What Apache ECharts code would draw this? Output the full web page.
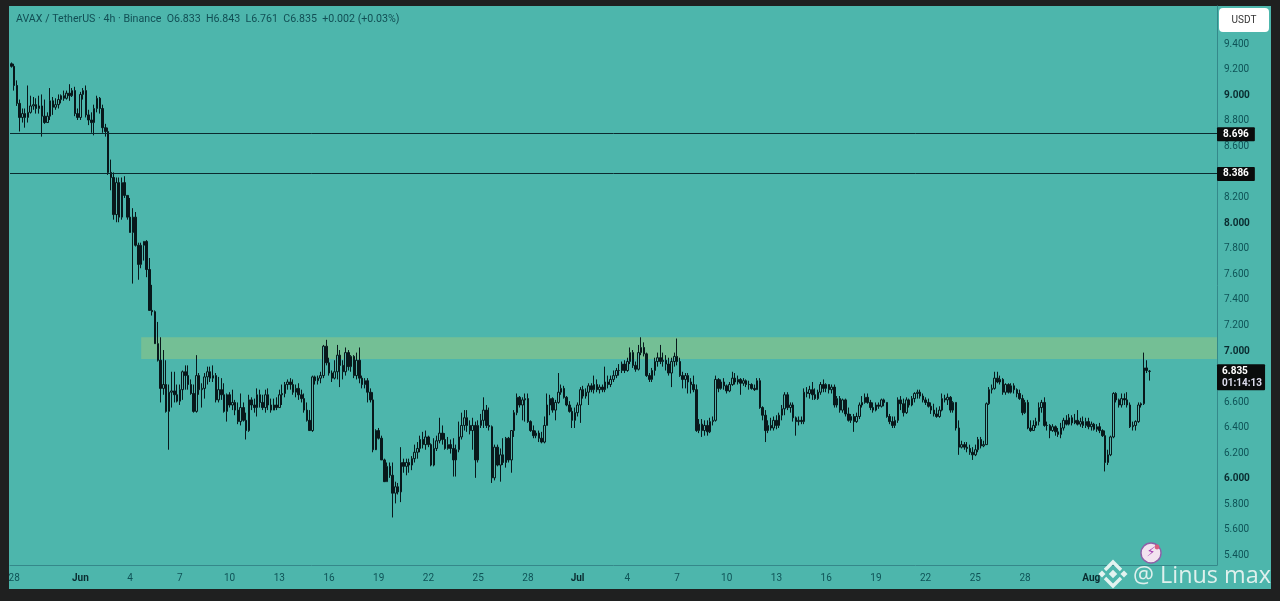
<!DOCTYPE html>
<html><head><meta charset="utf-8">
<style>
html,body{margin:0;padding:0;width:1280px;height:601px;overflow:hidden;background:#1f2020}
#panel{position:absolute;left:9px;top:6px;width:1262px;height:583px;background:#4DB6AC}
#c{position:absolute;left:0;top:0;width:1280px;height:601px;filter:blur(0.35px)}
</style>
<script src="https://cdn.jsdelivr.net/npm/echarts@6/dist/echarts.min.js"></script>
</head><body><div id="panel"></div><div id="c"></div>
<script>
const tickLabels=['28','Jun','4','7','10','13','16','19','22','25','28','Jul','4','7','10','13','16','19','22','25','28','Aug'];
const tickBars=[1,25,43,61,79,97,115,133,151,169,187,205,223,241,259,277,295,313,331,349,367,391];
const priceTicks=[5.4,5.6,5.8,6,6.2,6.4,6.6,7,7.2,7.4,7.6,7.8,8,8.2,8.6,8.8,9,9.2,9.4];
const levels=[8.696,8.386];
const lastPrice=6.835;
const lastCountdown='01:14:13';
const zone=[6.93,7.10];
const header='AVAX / TetherUS · 4h · Binance  O6.833  H6.843  L6.761  C6.835  +0.002 (+0.03%)';

const opens=[
9.24,9.22,9.07,8.93,8.82,8.85,8.82,8.86,8.91,8.92,
8.89,8.91,8.83,8.78,8.83,8.95,8.90,8.92,8.96,8.99,
8.97,9.01,8.99,9.03,8.85,8.82,9.00,9.03,8.84,8.80,
8.78,8.89,8.97,8.89,8.74,8.71,8.39,8.35,8.06,8.31,
8.04,8.31,8.21,8.04,7.92,8.04,7.82,7.67,7.82,7.85,
7.63,7.31,7.30,7.05,6.92,6.70,6.73,6.52,6.67,6.68,
6.65,6.60,6.69,6.83,6.80,6.73,6.66,6.52,6.80,6.69,
6.70,6.79,6.83,6.78,6.80,6.61,6.69,6.65,6.52,6.65,
6.57,6.59,6.53,6.44,6.55,6.45,6.37,6.61,6.57,6.55,
6.65,6.59,6.55,6.65,6.57,6.53,6.57,6.55,6.65,6.66,
6.73,6.75,6.73,6.67,6.70,6.65,6.62,6.53,6.45,6.37,
6.79,6.76,6.78,6.80,7.03,6.90,6.82,6.78,6.83,6.96,
6.88,6.83,6.98,6.87,6.95,6.80,6.92,6.78,6.73,6.76,
6.67,6.61,6.22,6.37,6.31,6.14,5.97,6.09,6.02,5.88,
5.93,5.89,6.12,6.09,6.12,6.10,6.15,6.20,6.23,6.30,
6.26,6.32,6.26,6.10,6.23,6.29,6.35,6.30,6.23,6.26,
6.23,6.14,6.22,6.32,6.41,6.47,6.41,6.37,6.41,6.14,
6.41,6.45,6.53,6.41,6.40,6.00,6.24,6.10,6.18,6.12,
6.31,6.14,6.37,6.51,6.63,6.57,6.61,6.62,6.44,6.37,
6.33,6.35,6.31,6.28,6.41,6.57,6.62,6.53,6.59,6.67,
6.70,6.63,6.57,6.52,6.45,6.51,6.57,6.69,6.64,6.67,
6.72,6.69,6.73,6.69,6.71,6.69,6.75,6.73,6.77,6.80,
6.84,6.84,6.89,6.84,6.91,6.98,6.88,6.85,6.98,7.02,
6.97,6.80,6.77,6.84,6.91,6.94,6.91,6.92,6.89,6.82,
6.91,6.95,6.91,6.80,6.77,6.80,6.75,6.73,6.69,6.37,
6.42,6.37,6.41,6.36,6.44,6.45,6.77,6.70,6.75,6.72,
6.68,6.73,6.78,6.75,6.77,6.74,6.76,6.73,6.73,6.70,
6.69,6.76,6.55,6.49,6.37,6.41,6.39,6.45,6.41,6.49,
6.54,6.65,6.55,6.57,6.47,6.44,6.45,6.44,6.67,6.66,
6.69,6.65,6.62,6.67,6.73,6.70,6.73,6.69,6.71,6.57,
6.62,6.53,6.61,6.50,6.45,6.48,6.44,6.48,6.57,6.59,
6.63,6.59,6.55,6.53,6.57,6.56,6.61,6.59,6.48,6.44,
6.41,6.45,6.61,6.58,6.51,6.61,6.57,6.62,6.66,6.67,
6.64,6.61,6.59,6.56,6.53,6.50,6.48,6.53,6.62,6.61,
6.63,6.53,6.59,6.39,6.24,6.26,6.24,6.23,6.20,6.18,
6.22,6.30,6.25,6.26,6.58,6.69,6.70,6.78,6.75,6.77,
6.67,6.73,6.67,6.72,6.69,6.66,6.62,6.51,6.59,6.39,
6.37,6.41,6.44,6.55,6.59,6.41,6.41,6.37,6.40,6.36,
6.34,6.39,6.45,6.42,6.47,6.43,6.45,6.42,6.44,6.41,
6.44,6.40,6.42,6.38,6.40,6.37,6.33,6.12,6.18,6.32,
6.66,6.61,6.57,6.62,6.61,6.57,6.40,6.41,6.44,6.57,
6.58,6.86,6.833];

const closes=[
9.22,9.07,8.93,8.82,8.85,8.82,8.86,8.91,8.92,8.89,
8.91,8.83,8.78,8.83,8.95,8.90,8.92,8.96,8.99,8.97,
9.01,8.99,9.03,8.85,8.82,9.00,9.03,8.84,8.80,8.78,
8.89,8.97,8.89,8.74,8.71,8.39,8.35,8.06,8.31,8.04,
8.31,8.21,8.04,7.92,8.04,7.82,7.67,7.82,7.85,7.63,
7.31,7.30,7.05,6.92,6.70,6.73,6.52,6.67,6.68,6.65,
6.60,6.69,6.83,6.80,6.73,6.66,6.52,6.80,6.69,6.70,
6.79,6.83,6.78,6.80,6.61,6.69,6.65,6.52,6.65,6.57,
6.59,6.53,6.44,6.55,6.45,6.37,6.61,6.57,6.55,6.65,
6.59,6.55,6.65,6.57,6.53,6.57,6.55,6.65,6.66,6.73,
6.75,6.73,6.67,6.70,6.65,6.62,6.53,6.45,6.37,6.79,
6.76,6.78,6.80,7.03,6.90,6.82,6.78,6.83,6.96,6.88,
6.83,6.98,6.87,6.95,6.80,6.92,6.78,6.73,6.76,6.67,
6.61,6.22,6.37,6.31,6.14,5.97,6.09,6.02,5.88,5.93,
5.89,6.12,6.09,6.12,6.10,6.15,6.20,6.23,6.30,6.26,
6.32,6.26,6.10,6.23,6.29,6.35,6.30,6.23,6.26,6.23,
6.14,6.22,6.32,6.41,6.47,6.41,6.37,6.41,6.14,6.41,
6.45,6.53,6.41,6.40,6.00,6.24,6.10,6.18,6.12,6.31,
6.14,6.37,6.51,6.63,6.57,6.61,6.62,6.44,6.37,6.33,
6.35,6.31,6.28,6.41,6.57,6.62,6.53,6.59,6.67,6.70,
6.63,6.57,6.52,6.45,6.51,6.57,6.69,6.64,6.67,6.72,
6.69,6.73,6.69,6.71,6.69,6.75,6.73,6.77,6.80,6.84,
6.84,6.89,6.84,6.91,6.98,6.88,6.85,6.98,7.02,6.97,
6.80,6.77,6.84,6.91,6.94,6.91,6.92,6.89,6.82,6.91,
6.95,6.91,6.80,6.77,6.80,6.75,6.73,6.69,6.37,6.42,
6.37,6.41,6.36,6.44,6.45,6.77,6.70,6.75,6.72,6.68,
6.73,6.78,6.75,6.77,6.74,6.76,6.73,6.73,6.70,6.69,
6.76,6.55,6.49,6.37,6.41,6.39,6.45,6.41,6.49,6.54,
6.65,6.55,6.57,6.47,6.44,6.45,6.44,6.67,6.66,6.69,
6.65,6.62,6.67,6.73,6.70,6.73,6.69,6.71,6.57,6.62,
6.53,6.61,6.50,6.45,6.48,6.44,6.48,6.57,6.59,6.63,
6.59,6.55,6.53,6.57,6.56,6.61,6.59,6.48,6.44,6.41,
6.45,6.61,6.58,6.51,6.61,6.57,6.62,6.66,6.67,6.64,
6.61,6.59,6.56,6.53,6.50,6.48,6.53,6.62,6.61,6.63,
6.53,6.59,6.39,6.24,6.26,6.24,6.23,6.20,6.18,6.22,
6.30,6.25,6.26,6.58,6.69,6.70,6.78,6.75,6.77,6.67,
6.73,6.67,6.72,6.69,6.66,6.62,6.51,6.59,6.39,6.37,
6.41,6.44,6.55,6.59,6.41,6.41,6.37,6.40,6.36,6.34,
6.39,6.45,6.42,6.47,6.43,6.45,6.42,6.44,6.41,6.44,
6.40,6.42,6.38,6.40,6.37,6.33,6.12,6.18,6.32,6.66,
6.61,6.57,6.62,6.61,6.57,6.40,6.41,6.44,6.57,6.58,
6.86,6.84,6.835];

const highs=[
9.25,9.24,9.11,8.96,8.89,8.89,9.07,8.99,8.98,8.97,
8.99,9.00,8.96,8.86,9.05,8.98,8.97,9.00,9.00,9.03,
9.03,9.08,9.05,9.06,8.89,9.02,9.05,9.07,8.88,8.86,
8.92,8.99,8.98,8.92,8.77,8.74,8.49,8.39,8.35,8.35,
8.35,8.36,8.21,8.19,8.11,8.08,7.84,7.84,7.85,7.86,
7.72,7.51,7.31,7.22,7.10,7.00,6.92,6.73,6.83,6.83,
6.73,6.73,6.84,6.88,6.88,6.77,6.73,6.96,6.82,6.74,
6.82,6.87,6.87,6.88,6.82,6.79,6.78,6.74,6.66,6.67,
6.69,6.61,6.59,6.66,6.59,6.51,6.65,6.63,6.62,6.70,
6.69,6.65,6.69,6.70,6.62,6.62,6.63,6.69,6.73,6.75,
6.77,6.78,6.77,6.73,6.74,6.69,6.66,6.59,6.53,6.80,
6.80,6.80,6.83,7.04,7.08,6.94,6.84,6.92,7.04,7.00,
6.92,7.02,7.00,6.96,6.96,6.98,7.02,6.80,6.78,6.78,
6.70,6.67,6.38,6.39,6.33,6.15,6.12,6.12,6.12,5.97,
5.96,6.24,6.15,6.15,6.15,6.17,6.26,6.28,6.33,6.36,
6.37,6.33,6.27,6.31,6.33,6.47,6.41,6.35,6.32,6.30,
6.31,6.26,6.44,6.51,6.53,6.53,6.45,6.47,6.44,6.45,
6.50,6.63,6.57,6.55,6.41,6.26,6.26,6.23,6.31,6.32,
6.32,6.37,6.53,6.66,6.64,6.63,6.66,6.66,6.45,6.41,
6.37,6.37,6.36,6.48,6.66,6.65,6.63,6.61,6.82,6.73,
6.72,6.64,6.60,6.55,6.55,6.59,6.71,6.72,6.70,6.74,
6.74,6.80,6.77,6.73,6.73,6.87,6.80,6.80,6.84,6.86,
6.89,6.91,6.92,6.94,7.02,7.00,6.91,7.04,7.10,7.06,
6.98,6.82,6.86,6.94,6.98,7.04,6.98,6.96,6.94,6.94,
6.98,7.09,6.94,6.83,6.82,6.82,6.78,6.80,6.73,6.46,
6.46,6.45,6.45,6.47,6.48,6.80,6.78,6.77,6.78,6.73,
6.75,6.83,6.82,6.80,6.78,6.78,6.77,6.76,6.74,6.73,
6.78,6.78,6.56,6.53,6.45,6.47,6.48,6.49,6.51,6.57,
6.67,6.67,6.59,6.59,6.48,6.48,6.48,6.70,6.71,6.72,
6.75,6.70,6.69,6.75,6.77,6.74,6.73,6.73,6.73,6.64,
6.64,6.62,6.62,6.55,6.50,6.50,6.51,6.59,6.64,6.66,
6.66,6.61,6.59,6.59,6.59,6.62,6.62,6.59,6.50,6.48,
6.48,6.63,6.64,6.62,6.63,6.62,6.64,6.67,6.69,6.69,
6.66,6.63,6.62,6.59,6.58,6.55,6.56,6.66,6.65,6.66,
6.64,6.60,6.59,6.45,6.29,6.28,6.28,6.26,6.24,6.26,
6.32,6.32,6.29,6.59,6.71,6.73,6.83,6.83,6.80,6.78,
6.74,6.74,6.74,6.74,6.70,6.69,6.65,6.61,6.61,6.45,
6.45,6.47,6.59,6.61,6.63,6.44,6.42,6.42,6.41,6.39,
6.43,6.47,6.49,6.50,6.49,6.50,6.53,6.47,6.48,6.47,
6.47,6.44,6.43,6.42,6.43,6.38,6.37,6.22,6.33,6.67,
6.67,6.62,6.66,6.66,6.67,6.59,6.44,6.45,6.59,6.59,
6.98,6.92,6.843];

const lows=[
9.21,9.03,8.91,8.71,8.78,8.74,8.78,8.85,8.88,8.85,
8.85,8.67,8.77,8.78,8.80,8.84,8.88,8.89,8.93,8.95,
8.96,8.95,8.98,8.83,8.80,8.80,8.96,8.82,8.76,8.70,
8.68,8.86,8.85,8.70,8.67,8.37,8.25,8.02,8.00,8.00,
8.02,8.19,8.02,7.92,7.52,7.81,7.55,7.64,7.70,7.57,
7.31,7.27,7.05,6.91,6.59,6.65,6.51,6.22,6.55,6.59,
6.59,6.57,6.61,6.69,6.69,6.65,6.51,6.51,6.65,6.55,
6.62,6.73,6.75,6.75,6.59,6.59,6.61,6.51,6.44,6.55,
6.53,6.49,6.42,6.41,6.44,6.30,6.36,6.53,6.51,6.48,
6.55,6.53,6.51,6.53,6.51,6.53,6.53,6.55,6.57,6.63,
6.69,6.69,6.65,6.63,6.61,6.59,6.51,6.44,6.37,6.36,
6.73,6.73,6.74,6.78,6.88,6.80,6.75,6.77,6.77,6.71,
6.77,6.80,6.84,6.83,6.78,6.77,6.74,6.70,6.70,6.59,
6.59,6.20,6.23,6.30,6.14,5.97,5.97,6.00,5.69,5.80,
5.87,5.81,6.04,6.02,6.04,6.06,6.12,6.15,6.20,6.23,
6.22,6.24,6.09,6.09,6.21,6.27,6.26,6.22,6.22,6.19,
6.01,6.01,6.20,6.30,6.37,6.36,6.34,6.22,6.00,6.12,
6.39,6.39,6.39,6.37,5.96,5.98,6.09,5.97,6.10,6.08,
6.12,6.04,6.32,6.49,6.55,6.45,6.44,6.43,6.36,6.31,
6.31,6.28,6.27,6.27,6.41,6.49,6.51,6.45,6.58,6.65,
6.62,6.56,6.51,6.39,6.39,6.48,6.43,6.62,6.62,6.57,
6.67,6.66,6.67,6.66,6.67,6.67,6.70,6.71,6.75,6.78,
6.80,6.82,6.82,6.83,6.89,6.86,6.83,6.84,6.96,6.95,
6.79,6.75,6.75,6.80,6.87,6.89,6.87,6.84,6.80,6.71,
6.87,6.88,6.79,6.70,6.70,6.66,6.66,6.67,6.36,6.35,
6.32,6.33,6.33,6.35,6.41,6.44,6.67,6.69,6.69,6.66,
6.67,6.72,6.73,6.73,6.65,6.72,6.71,6.69,6.69,6.68,
6.69,6.54,6.45,6.28,6.35,6.37,6.37,6.38,6.39,6.45,
6.49,6.53,6.51,6.44,6.33,6.41,6.42,6.42,6.63,6.62,
6.61,6.61,6.61,6.65,6.67,6.67,6.66,6.66,6.55,6.55,
6.51,6.51,6.48,6.44,6.43,6.36,6.43,6.46,6.55,6.58,
6.58,6.53,6.51,6.52,6.54,6.55,6.56,6.47,6.42,6.39,
6.39,6.43,6.53,6.48,6.50,6.55,6.56,6.59,6.62,6.62,
6.59,6.57,6.55,6.50,6.48,6.47,6.47,6.52,6.59,6.57,
6.51,6.51,6.37,6.18,6.23,6.22,6.20,6.18,6.14,6.17,
6.20,6.23,6.24,6.26,6.57,6.66,6.69,6.74,6.73,6.65,
6.65,6.66,6.66,6.66,6.63,6.61,6.49,6.50,6.38,6.36,
6.37,6.39,6.41,6.51,6.40,6.37,6.31,6.36,6.33,6.32,
6.31,6.37,6.41,6.41,6.41,6.42,6.41,6.40,6.39,6.39,
6.38,6.37,6.37,6.36,6.35,6.32,6.05,6.10,6.17,6.31,
6.59,6.55,6.55,6.57,6.55,6.39,6.37,6.37,6.43,6.55,
6.57,6.82,6.761];

const BAR_SLOTS=437;
const categories=[];
for(let i=0;i<BAR_SLOTS;i++){const k=tickBars.indexOf(i);categories.push(k>=0?tickLabels[k]:'');}
const candles=opens.map((o,i)=>[o,closes[i],lows[i],highs[i]]);
const ink='#08181b', axisInk='#0f5357';
const chart=echarts.init(document.getElementById('c'),null,{renderer:'canvas'});
chart.setOption({
  animation:false,
  backgroundColor:'transparent',
  textStyle:{fontFamily:'Roboto'},
  title:{text:header,left:16,top:14,padding:0,textStyle:{fontFamily:'Roboto',fontSize:10.65,fontWeight:'normal',color:'#124f55'}},
  grid:{left:10,top:6,width:1207,height:559,containLabel:false},
  xAxis:{type:'category',data:categories,boundaryGap:true,
    axisLine:{show:true,lineStyle:{color:'#35888a',width:1}},axisTick:{show:false},splitLine:{show:false},
    axisLabel:{interval:(i)=>tickBars.includes(i),margin:8,fontFamily:'Roboto',fontSize:10,color:axisInk,
      hideOverlap:false,showMinLabel:true,showMaxLabel:true,
      formatter:(v)=>/[A-Za-z]/.test(v)?'{b|'+v+'}':v,
      rich:{b:{fontFamily:'Roboto',fontSize:10,fontWeight:'bold',color:'#0a2c30'}}}},
  yAxis:{type:'value',position:'right',min:5.318,max:9.692,scale:true,
    axisLine:{show:true,lineStyle:{color:'#35888a',width:1}},axisTick:{show:false},splitLine:{show:false},
    axisLabel:{customValues:priceTicks,margin:7,padding:[2,0,0,0],fontFamily:'Roboto',fontSize:10,color:axisInk,
      formatter:(v)=>Number.isInteger(v)?'{b|'+v.toFixed(3)+'}':v.toFixed(3),
      rich:{b:{fontFamily:'Roboto',fontSize:10,fontWeight:'bold',color:'#0a2c30'}}}},
  series:[{
    type:'candlestick',data:candles,barWidth:2,
    itemStyle:{color:'#55b3a9',color0:ink,borderColor:ink,borderColor0:ink,borderWidth:1},
    markArea:{silent:true,itemStyle:{color:'#74BF95',opacity:1},z:1,
      data:[[{xAxis:47,yAxis:zone[1]},{xAxis:BAR_SLOTS-1,x:1217,yAxis:zone[0]}]]},
    markLine:{silent:true,symbol:'none',animation:false,precision:3,
      lineStyle:{color:'#0b2a2e',width:1,type:'solid'},
      label:{position:'end',distance:0,offset:[0,1],backgroundColor:'#0a0c0c',color:'#fff',fontFamily:'Roboto',fontSize:10,fontWeight:'bold',padding:[2,6,2,6],borderRadius:1,formatter:(p)=>p.value.toFixed(3)},
      data:[{yAxis:levels[0]},{yAxis:levels[1]},
        {yAxis:lastPrice,lineStyle:{color:'rgba(0,0,0,0)'},
         label:{offset:[0,6],padding:[1,3,1,5],
           formatter:()=>'{a|'+lastPrice.toFixed(3)+'}\n{t|'+lastCountdown+'}',
           rich:{a:{color:'#fff',fontFamily:'Roboto',fontSize:10,fontWeight:'bold',lineHeight:12},t:{color:'#dde',fontFamily:'Roboto',fontSize:10,lineHeight:12}}}}]}
  }],
  graphic:[
    {type:'rect',z:50,shape:{x:1219,y:8,width:50,height:24,r:4},style:{fill:'#ffffff'}},
    {type:'text',z:51,x:1244,y:20,style:{text:'USDT',fill:'#333',font:'10px Roboto',textAlign:'center',textVerticalAlign:'middle'}},
    {type:'circle',z:60,shape:{cx:1151,cy:553,r:10},style:{fill:'#f3e3f0',stroke:'#8f5fa8',lineWidth:1.4}},
    {type:'text',z:61,x:1151,y:553,style:{text:'⚡',fill:'#a23bb0',font:'13px "DejaVu Sans"',textAlign:'center',textVerticalAlign:'middle'}},
    {type:'circle',z:62,shape:{cx:1157,cy:547,r:2.4},style:{fill:'#d8607f'}},
    {type:'rect',z:70,x:1113,y:574,rotation:Math.PI/4,shape:{x:-3,y:-3,width:6,height:6},style:{fill:'#e3f3f0'}},
    {type:'polyline',z:70,shape:{points:[[1105,570],[1113,562],[1121,570]]},style:{stroke:'#e3f3f0',fill:null,lineWidth:3.4}},
    {type:'polyline',z:70,shape:{points:[[1105,578],[1113,586],[1121,578]]},style:{stroke:'#e3f3f0',fill:null,lineWidth:3.4}},
    {type:'rect',z:70,x:1102,y:574,rotation:Math.PI/4,shape:{x:-2.5,y:-2.5,width:5,height:5},style:{fill:'#e3f3f0'}},
    {type:'rect',z:70,x:1124,y:574,rotation:Math.PI/4,shape:{x:-2.5,y:-2.5,width:5,height:5},style:{fill:'#e3f3f0'}},
    {type:'text',z:70,x:1133,y:576,style:{text:'@ Linus max',fill:'#dff0ed',font:'23.4px "Open Sans"',textAlign:'left',textVerticalAlign:'middle'}}
  ]
});
</script></body></html>
